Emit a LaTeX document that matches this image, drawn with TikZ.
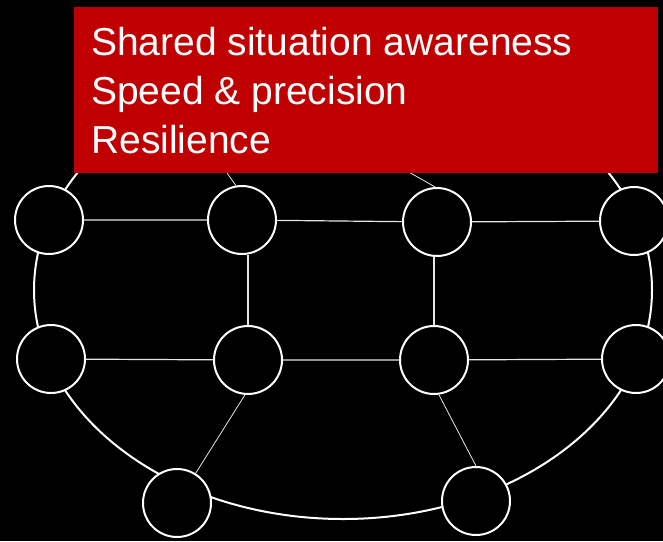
\documentclass[tikz,border=0pt]{standalone}
\usepackage{fontspec}
\setmainfont{Liberation Sans}
\definecolor{boxred}{RGB}{192,0,0}

\begin{document}
\begin{tikzpicture}[x=1pt,y=-1pt,
   agent/.style={circle,draw=white,fill=black,line width=2pt,minimum size=68pt,inner sep=0pt},
   link/.style={draw=white!90!black,line width=1.2pt},
   goal/.style={text=white,font=\fontsize{39}{48}\selectfont,anchor=base west,inner sep=0pt}]
       \useasboundingbox (0,0) rectangle (663,541);
       \fill[black] (0,0) rectangle (663,541);
       \draw[white,line width=2pt] (343,290) ellipse [x radius=309, y radius=229];
       % agents
       \node[agent] (a11) at (49,220) {};
       \node[agent] (a12) at (242,220) {};
       \node[agent] (a13) at (437,222) {};
       \node[agent] (a14) at (634,221) {};
       \node[agent] (a21) at (51,359) {};
       \node[agent] (a22) at (248,360) {};
       \node[agent] (a23) at (434,360) {};
       \node[agent] (a24) at (636,359) {};
       \node[agent] (a31) at (177,503) {};
       \node[agent] (a32) at (476,501) {};
       \coordinate (h1) at (175,100);
       \coordinate (h2) at (300,110);
       % links
       \draw[link] (a11) -- (a12) -- (a13) -- (a14);
       \draw[link] (a21) -- (a22) -- (a23) -- (a24);
       \draw[link] (a22.north) -- (a22.north |- a12.south);
       \draw[link] (a23.north) -- (a23.north |- a13.south);
       \draw[link,line width=.8pt] (a22.265) -- (a31);
       \draw[link,line width=.8pt] (a23.278) -- (a32.north);
       \draw[link,line width=.8pt] (h1) -- (a12.100);
       \draw[link,line width=.8pt] (h2) -- (a13.93);
       % goals
       \node[fill=boxred,minimum width=584pt,minimum height=166pt,inner sep=0pt,anchor=north west] (goals) at (74,7) {};
       \node[goal] (ssa) at (91,55) {Shared situation awareness};
       \node[goal] (spd) at (91,104) {Speed \& precision};
       \node[goal] (res) at (91,153) {Resilience};
\end{tikzpicture}
\end{document}
